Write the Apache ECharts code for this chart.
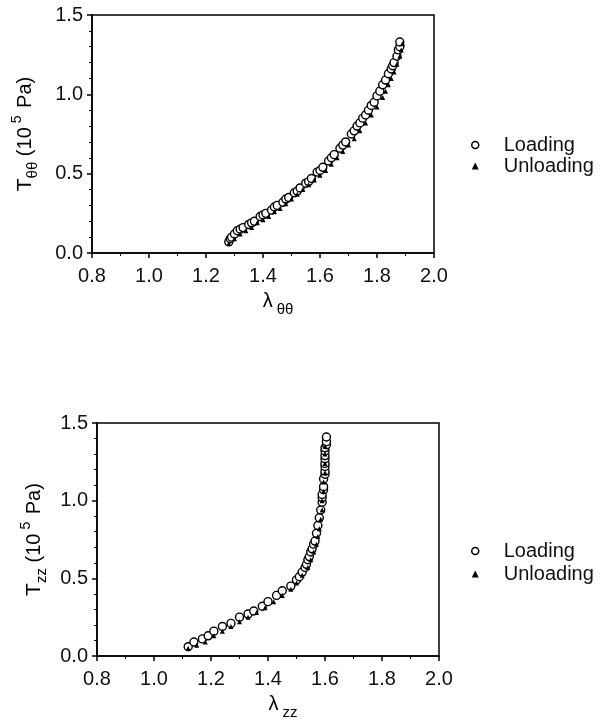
<!DOCTYPE html>
<html>
<head>
<meta charset="utf-8">
<script src="https://cdn.jsdelivr.net/npm/echarts@6/dist/echarts.min.js"></script>
<style>
  html, body { margin: 0; padding: 0; background: #fff; }
  #chart { width: 603px; height: 721px; }
</style>
</head>
<body>
<div id="chart"></div>
<script>
// [λ, T] pairs (T in 10^5 Pa)
const loadingTheta = [
  [1.28, 0.07], [1.285, 0.09], [1.29, 0.10], [1.30, 0.12], [1.31, 0.14], [1.32, 0.15],
  [1.33, 0.16], [1.35, 0.18], [1.36, 0.19], [1.37, 0.20], [1.39, 0.23], [1.40, 0.24],
  [1.41, 0.25], [1.43, 0.27], [1.44, 0.29], [1.45, 0.30], [1.47, 0.32], [1.48, 0.34],
  [1.49, 0.35], [1.51, 0.38], [1.52, 0.39], [1.53, 0.41], [1.55, 0.44], [1.56, 0.45],
  [1.57, 0.47], [1.59, 0.51], [1.60, 0.52], [1.61, 0.54], [1.63, 0.58], [1.64, 0.60],
  [1.65, 0.62], [1.67, 0.66], [1.68, 0.68], [1.69, 0.70], [1.71, 0.75], [1.72, 0.77],
  [1.73, 0.80], [1.74, 0.82], [1.75, 0.85], [1.76, 0.87], [1.77, 0.90], [1.78, 0.93],
  [1.79, 0.95], [1.80, 0.99], [1.81, 1.02], [1.82, 1.06], [1.83, 1.09], [1.84, 1.13],
  [1.85, 1.16], [1.855, 1.18], [1.86, 1.20], [1.87, 1.24], [1.875, 1.28], [1.88, 1.30],
  [1.88, 1.33]
]
const unloadingTheta = [
  [1.28, 0.06], [1.30, 0.09], [1.32, 0.12], [1.34, 0.14], [1.36, 0.16], [1.38, 0.19],
  [1.40, 0.21], [1.42, 0.23], [1.44, 0.26], [1.46, 0.28], [1.48, 0.31], [1.50, 0.34],
  [1.52, 0.37], [1.54, 0.40], [1.56, 0.43], [1.58, 0.46], [1.60, 0.49], [1.62, 0.52],
  [1.64, 0.56], [1.66, 0.60], [1.68, 0.64], [1.70, 0.68], [1.72, 0.72], [1.74, 0.77],
  [1.76, 0.82], [1.78, 0.87], [1.80, 0.92], [1.82, 0.98], [1.83, 1.02], [1.84, 1.06],
  [1.85, 1.10], [1.86, 1.14], [1.87, 1.19], [1.88, 1.24], [1.885, 1.28], [1.89, 1.32]
]
const loadingZ = [
  [1.12, 0.06], [1.14, 0.09], [1.17, 0.11], [1.19, 0.13], [1.21, 0.16], [1.24, 0.19],
  [1.27, 0.21], [1.30, 0.25], [1.33, 0.27], [1.35, 0.29], [1.38, 0.32], [1.40, 0.35],
  [1.43, 0.39], [1.45, 0.42], [1.48, 0.45], [1.50, 0.49], [1.51, 0.51], [1.52, 0.54],
  [1.53, 0.57], [1.535, 0.59], [1.54, 0.62], [1.545, 0.64], [1.55, 0.67], [1.555, 0.69],
  [1.56, 0.72], [1.565, 0.74], [1.57, 0.79], [1.575, 0.84], [1.58, 0.89], [1.585, 0.94],
  [1.59, 0.99], [1.59, 1.02], [1.59, 1.04], [1.595, 1.07], [1.595, 1.09], [1.595, 1.14],
  [1.60, 1.17], [1.60, 1.19], [1.60, 1.22], [1.60, 1.24], [1.60, 1.27], [1.60, 1.29],
  [1.60, 1.32], [1.60, 1.34], [1.605, 1.36], [1.605, 1.38], [1.605, 1.41]
]
const unloadingZ = [
  [1.12, 0.05], [1.15, 0.07], [1.18, 0.09], [1.21, 0.13], [1.24, 0.16], [1.27, 0.19],
  [1.30, 0.22], [1.33, 0.25], [1.36, 0.28], [1.39, 0.31], [1.42, 0.35], [1.45, 0.39],
  [1.48, 0.43], [1.50, 0.47], [1.52, 0.52], [1.54, 0.57], [1.55, 0.62], [1.56, 0.67],
  [1.57, 0.72], [1.575, 0.77], [1.58, 0.82], [1.585, 0.88], [1.59, 0.94], [1.59, 1.00],
  [1.595, 1.06], [1.595, 1.12], [1.60, 1.18], [1.60, 1.24], [1.60, 1.30], [1.60, 1.35]
]
const seriesNames = ['Loading', 'Unloading']

const FONT = '"Liberation Sans", Arial, Helvetica, sans-serif'
const chart = echarts.init(document.getElementById('chart'), null, { renderer: 'canvas' })

function xAxis(gridIndex, sub) {
  return {
    type: 'value', gridIndex, min: 0.8, max: 2.0, interval: 0.2,
    name: '{l|λ}{s|' + sub + '}',
    nameLocation: 'middle', nameGap: 38,
    nameTextStyle: {
      padding: [0, 0, 0, 30],
      rich: {
        l: { fontFamily: FONT, fontSize: 20, color: '#000', lineHeight: 26, verticalAlign: 'top' },
        s: { fontFamily: FONT, fontSize: 15, color: '#000', lineHeight: 26, verticalAlign: 'bottom', padding: [10, 0, 0, 4] }
      }
    },
    axisLine: { show: true, lineStyle: { color: '#000', width: 1.5 } },
    axisTick: { show: true, inside: false, length: 5, lineStyle: { color: '#000', width: 1.5 } },
    minorTick: { show: true, splitNumber: 2, length: 3, lineStyle: { color: '#000', width: 1 } },
    splitLine: { show: false },
    axisLabel: { fontFamily: FONT, fontSize: 20, color: '#111', margin: 13, formatter: v => v.toFixed(1) }
  }
}

function yAxis(gridIndex, sub, gap) {
  return {
    type: 'value', gridIndex, min: 0, max: 1.5, interval: 0.5,
    name: '{t|T}{s|' + sub + '}{p| (10}{e|5}{p| Pa)}',
    nameLocation: 'middle', nameRotate: 90, nameGap: gap,
    nameTextStyle: {
      rich: {
        t: { fontFamily: FONT, fontSize: 21, color: '#000', lineHeight: 30 },
        s: { fontFamily: FONT, fontSize: 15, color: '#000', lineHeight: 30, verticalAlign: 'bottom' },
        p: { fontFamily: FONT, fontSize: 20, color: '#000', lineHeight: 30 },
        e: { fontFamily: FONT, fontSize: 14, color: '#000', lineHeight: 30, verticalAlign: 'top', padding: [0, 2, 0, 4] }
      }
    },
    axisLine: { show: true, lineStyle: { color: '#000', width: 1.5 } },
    axisTick: { show: true, inside: false, length: 5, lineStyle: { color: '#000', width: 1.5 } },
    minorTick: { show: true, splitNumber: 5, length: 3, lineStyle: { color: '#000', width: 1 } },
    splitLine: { show: false },
    axisLabel: { fontFamily: FONT, fontSize: 20, color: '#111', margin: 9, formatter: v => v.toFixed(1) }
  }
}

function legend(top, gap) {
  return {
    left: 466, top, orient: 'vertical', itemGap: gap, selectedMode: false,
    itemWidth: 7, itemHeight: 7,
    textStyle: { fontFamily: FONT, fontSize: 20, color: '#111', padding: [0, 0, 0, 20] },
    data: [
      { name: seriesNames[0], icon: 'circle', itemStyle: { color: '#fff', borderColor: '#000', borderWidth: 1.5 } },
      { name: seriesNames[1], icon: 'triangle', itemStyle: { color: '#000', borderWidth: 0 } }
    ]
  }
}

function scatter(name, data, idx) {
  const open = name === seriesNames[0]
  return {
    name, type: 'scatter', xAxisIndex: idx, yAxisIndex: idx, data,
    symbol: open ? 'circle' : 'triangle',
    symbolSize: open ? 8 : 5,
    itemStyle: open
      ? { color: '#fff', borderColor: '#000', borderWidth: 1.4, opacity: 1 }
      : { color: '#000', borderWidth: 0, opacity: 1 },
    z: open ? 2 : 3,
    emphasis: { disabled: true }
  }
}

const option = {
  backgroundColor: '#fff',
  animation: false,
  grid: [
    { left: 92, top: 15, width: 342, height: 238, show: true, borderColor: '#000', borderWidth: 1.5 },
    { left: 97, top: 423, width: 342, height: 235, show: true, borderColor: '#000', borderWidth: 1.5 }
  ],
  xAxis: [xAxis(0, 'θθ'), xAxis(1, 'zz')],
  yAxis: [yAxis(0, 'θθ', 52), yAxis(1, 'zz', 47)],
  legend: [legend(130, 1), legend(536, 3)],
  series: [
    scatter(seriesNames[0], loadingTheta, 0),
    scatter(seriesNames[1], unloadingTheta, 0),
    scatter(seriesNames[0], loadingZ, 1),
    scatter(seriesNames[1], unloadingZ, 1)
  ]
}
chart.setOption(option)
</script>
</body>
</html>
